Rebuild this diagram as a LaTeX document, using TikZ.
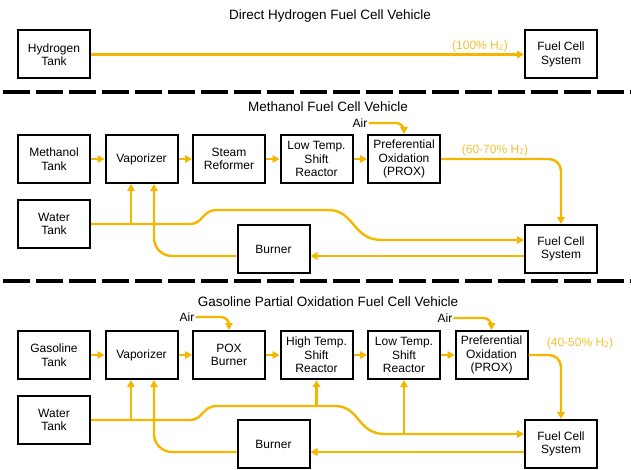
\documentclass[tikz,border=0pt]{standalone}
\usepackage{fontspec}
\setmainfont{Liberation Sans}
\usetikzlibrary{arrows.meta,calc}
\definecolor{flow}{RGB}{245,182,0}
\definecolor{lab}{RGB}{242,192,50}
\begin{document}
\begin{tikzpicture}[x=1pt,y=-1pt,
  box/.style={draw,line width=2pt,minimum width=72pt,minimum height=48pt,align=center,inner sep=1pt,font=\fontsize{12}{13.5}\selectfont},
  arr/.style={draw=flow,line width=2.4pt,-{Triangle[length=7pt,width=7.5pt]}},
  ttl/.style={font=\fontsize{13.5}{15}\selectfont},
  airlab/.style={font=\fontsize{12}{13}\selectfont,inner sep=1pt},
  pct/.style={text=lab,font=\fontsize{12}{13}\selectfont},
  sep/.style={line width=4pt,dash pattern=on 27pt off 6pt}]
\useasboundingbox (0,0) rectangle (631,470);

% ---------- Section 1 ----------
\node[ttl] (t1) at (330,16) {Direct Hydrogen Fuel Cell Vehicle};
\node[box] (h2) at (54,54.5) {Hydrogen\\Tank};
\node[box] (f1) at (561,54.5) {Fuel Cell\\System};
\draw[arr] (h2.east) -- (f1.west);
\node[pct] (q1) at (480,46) {(100\% H\textsubscript{2})};
\draw[sep] (3,92) -- (631,92);

% ---------- Section 2 ----------
\node[ttl] (t2) at (328,107) {Methanol Fuel Cell Vehicle};
\node[box] (m2) at (54,159) {Methanol\\Tank};
\node[box] (v2) at (141.5,159) {Vaporizer};
\node[box] (s2) at (229,159) {Steam\\Reformer};
\node[box] (l2) at (316.5,159) {Low Temp.\\Shift\\Reactor};
\node[box] (p2) at (404,159) {Preferential\\Oxidation\\(PROX)};
\node[box] (w2) at (54,224) {Water\\Tank};
\node[box] (b2) at (273.5,249) {Burner};
\node[box] (f2) at (561,249) {Fuel Cell\\System};
\node[airlab] (a2) at (360,123) {Air};
\node[pct] (q2) at (495,150) {(60-70\% H\textsubscript{2})};

\draw[arr] (m2) -- (v2);
\draw[arr] (v2) -- (s2);
\draw[arr] (s2) -- (l2);
\draw[arr] (l2) -- (p2);
\draw[arr,rounded corners=8pt] (a2.east) -| (p2.north);
\draw[arr,rounded corners=12pt] (p2.east) -| (f2.north);
\coordinate (w2a) at (131,224);
\draw[arr] (w2.east) -- (190,224) .. controls (203,224) and (202,210) .. (217,210) -- (328,210) .. controls (355,210) and (352,240) .. (382,240) -- ($(f2.west)+(0,-9)$);
\draw[arr] (w2a) -- (w2a |- v2.south);
\draw[arr] ($(f2.west)+(0,7)$) -- ($(b2.east)+(0,7)$);
\draw[arr,rounded corners=18pt] ($(b2.west)+(0,7)$) -| ($(v2.south)+(12.5,0)$);
\draw[sep] (3,281) -- (631,281);

% ---------- Section 3 ----------
\node[ttl] (t3) at (328,302) {Gasoline Partial Oxidation Fuel Cell Vehicle};
\node[box] (g3) at (54,355) {Gasoline\\Tank};
\node[box] (v3) at (141.5,355) {Vaporizer};
\node[box] (x3) at (229,355) {POX\\Burner};
\node[box] (h3) at (316.5,355) {High Temp.\\Shift\\Reactor};
\node[box] (l3) at (404,355) {Low Temp.\\Shift\\Reactor};
\node[box] (p3) at (491.5,355) {Preferential\\Oxidation\\(PROX)};
\node[box] (w3) at (54,420) {Water\\Tank};
\node[box] (b3) at (273.5,444) {Burner};
\node[box] (f3) at (561,444) {Fuel Cell\\System};
\node[airlab] (a3a) at (187,317) {Air};
\node[airlab] (a3b) at (445,318) {Air};
\node[pct] (q3) at (580,343) {(40-50\% H\textsubscript{2})};

\draw[arr] (g3) -- (v3);
\draw[arr] (v3) -- (x3);
\draw[arr] (x3) -- (h3);
\draw[arr] (h3) -- (l3);
\draw[arr] (l3) -- (p3);
\draw[arr,rounded corners=8pt] (a3a.east) -| (x3.north);
\draw[arr,rounded corners=8pt] (a3b.east) -| (p3.north);
\draw[arr,rounded corners=12pt] (p3.east) -| (f3.north);
\coordinate (w3a) at (131,420);
\coordinate (w3b) at (316.5,406);
\coordinate (w3c) at (404,434);
\draw[arr] (w3.east) -- (190,420) .. controls (203,420) and (202,406) .. (217,406) -- (335,406) .. controls (360,406) and (357,434) .. (385,434) -- ($(f3.west)+(0,-10)$);
\draw[arr] (w3a) -- (w3a |- v3.south);
\draw[arr] (w3b) -- (h3.south);
\draw[arr] (w3c) -- (l3.south);
\draw[arr] ($(f3.west)+(0,8)$) -- ($(b3.east)+(0,8)$);
\draw[arr,rounded corners=18pt] ($(b3.west)+(0,8)$) -| ($(v3.south)+(12.5,0)$);
\end{tikzpicture}
\end{document}
